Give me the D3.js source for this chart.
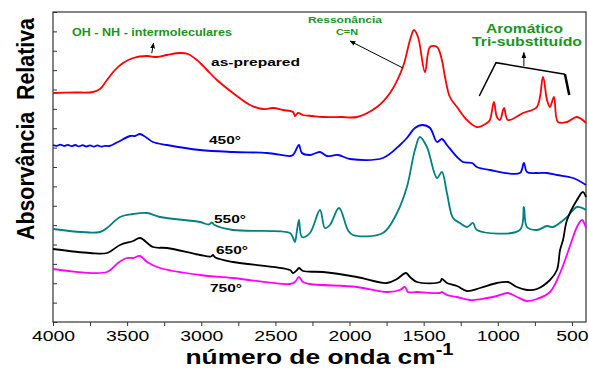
<!DOCTYPE html>
<html>
<head>
<meta charset="utf-8">
<script src="https://cdn.jsdelivr.net/npm/d3@7"></script>
<style>
  body { margin: 0; background: #fff; }
  svg text { font-family: "Liberation Sans", Arial, sans-serif; }
</style>
</head>
<body>
<div id="chart"></div>
<script>
// spectra: [wavenumber cm-1, absorbance (offset, a.u.)]
const asPrepared = [[4000,22.9],[3850,22.95],[3730,23.0],[3683,23.3],[3636,24.2],[3582,25.2],[3528,25.9],[3460,26.4],[3366,26.6],[3299,26.5],[3231,26.7],[3144,26.9],[3090,26.8],[3029,26.2],[2961,25.2],[2894,24.2],[2786,22.9],[2671,21.7],[2584,21.3],[2516,21.4],[2449,21.2],[2381,21.0],[2368,20.6],[2348,20.9],[2314,20.7],[2250,20.6],[2179,20.5],[2050,20.5],[1950,20.5],[1815,21.5],[1727,22.9],[1640,25.5],[1592,28.2],[1565,29.2],[1538,28.5],[1491,25.0],[1457,27.5],[1410,27.5],[1377,26.2],[1356,24.5],[1323,22.5],[1275,21.5],[1208,20.2],[1141,19.5],[1073,19.9],[1053,20.2],[1026,22.0],[1006,20.5],[985,20.2],[958,21.4],[932,20.2],[830,20.9],[736,21.5],[695,24.5],[668,22.2],[648,21.5],[621,22.5],[594,20.0],[533,20.0],[466,20.5],[405,19.9]];

const t450 = [[4000,17.7],[3975,17.62],[3950,17.74],[3925,17.6],[3900,17.72],[3875,17.58],[3850,17.7],[3825,17.56],[3800,17.68],[3775,17.55],[3750,17.67],[3725,17.54],[3700,17.66],[3675,17.53],[3650,17.62],[3620,17.6],[3562,18.0],[3481,18.6],[3447,18.6],[3413,18.8],[3366,18.4],[3326,18.0],[3231,17.7],[3009,17.2],[2786,17.0],[2557,16.9],[2402,16.6],[2381,16.7],[2368,17.0],[2341,17.7],[2321,16.9],[2267,16.7],[2199,17.0],[2152,16.6],[2078,16.7],[1997,16.3],[1775,16.4],[1660,17.7],[1613,18.4],[1559,19.4],[1511,19.7],[1457,19.4],[1410,18.0],[1377,18.3],[1343,17.7],[1275,16.5],[1235,16.0],[1174,15.9],[1141,15.5],[1053,15.2],[851,14.9],[824,15.9],[803,15.0],[736,14.9],[668,14.9],[601,14.7],[493,14.4],[405,13.7]];

const t550 = [[4000,9.3],[3683,9.0],[3636,9.4],[3548,10.5],[3460,10.8],[3366,10.9],[3278,10.5],[3009,10.0],[2950,9.75],[2928,9.95],[2910,9.7],[2786,9.2],[2402,8.9],[2381,8.4],[2368,8.0],[2354,9.2],[2341,10.2],[2321,8.5],[2267,8.9],[2199,11.2],[2166,9.4],[2132,9.7],[2071,11.4],[2011,9.2],[1977,8.7],[1775,8.9],[1680,10.9],[1613,13.5],[1559,17.2],[1525,18.5],[1478,17.5],[1410,14.4],[1377,15.0],[1343,12.9],[1302,10.4],[1255,9.9],[1208,9.5],[1167,9.9],[1141,9.2],[851,9.2],[824,11.5],[803,9.5],[736,9.2],[668,9.6],[628,9.5],[533,10.5],[466,11.5],[405,11.2]];

const t650 = [[4000,7.3],[3750,6.9],[3636,6.9],[3548,7.7],[3460,8.1],[3413,8.4],[3326,7.5],[3231,7.4],[3009,6.7],[2935,6.55],[2921,6.7],[2905,6.45],[2786,6.0],[2402,5.2],[2381,4.9],[2354,5.2],[2341,5.4],[2314,5.1],[2179,5.0],[1950,4.5],[1748,3.9],[1680,4.3],[1619,4.9],[1592,4.5],[1545,4.0],[1390,4.0],[1377,4.3],[1343,3.9],[1275,3.6],[1208,3.1],[1120,3.4],[1006,3.9],[932,4.0],[871,3.5],[803,3.2],[736,3.3],[648,4.2],[601,5.2],[580,7.2],[560,8.2],[533,10.2],[466,12.2],[426,13.0],[405,12.5]];

const t750 = [[4000,5.3],[3636,5.0],[3562,5.9],[3501,6.4],[3460,6.4],[3413,6.6],[3366,6.0],[3278,5.4],[3009,4.7],[2786,4.4],[2402,3.8],[2368,4.0],[2341,4.5],[2314,4.0],[2267,3.8],[1950,3.5],[1748,3.0],[1660,3.2],[1626,3.5],[1606,3.0],[1545,3.0],[1390,2.9],[1377,3.0],[1343,2.7],[1275,2.5],[1188,2.2],[1073,2.4],[1006,2.6],[932,2.9],[871,2.5],[803,2.1],[736,2.3],[648,3.0],[580,4.9],[513,7.6],[466,9.5],[432,10.2],[405,9.4]];

const series = [
  {name: "as-prepared", data: asPrepared, color: "#ff0000"},
  {name: "450°", data: t450, color: "#0000ff"},
  {name: "550°", data: t550, color: "#008080"},
  {name: "650°", data: t650, color: "#000000"},
  {name: "750°", data: t750, color: "#ff00ff"}
];

const xTickValues = d3.range(4000, 404, -250);

// chart frame
const W = 589, H = 371;
const margin = {top: 12, right: 3, bottom: 49, left: 53};
const width = W - margin.left - margin.right;
const height = H - margin.top - margin.bottom;

const svg = d3.select("#chart").append("svg")
  .attr("width", W).attr("height", H)
  .append("g")
  .attr("transform", `translate(${margin.left},${margin.top})`);

const x = d3.scaleLinear().domain([4000, 405]).range([0, width]);
const y = d3.scaleLinear().domain([0, 31]).range([height, 0]);

// arrow head
svg.append("defs").append("marker")
  .attr("id", "head").attr("viewBox", "0 0 10 10")
  .attr("refX", 9).attr("refY", 5)
  .attr("markerWidth", 6).attr("markerHeight", 6)
  .attr("orient", "auto-start-reverse")
  .append("path").attr("d", "M0,1 L10,5 L0,9 z").attr("fill", "#000");

// x axis
const xAxis = svg.append("g")
  .attr("transform", `translate(0,${height})`)
  .call(d3.axisBottom(x).tickValues(xTickValues).tickSize(4).tickSizeOuter(0).tickPadding(4)
    .tickFormat(d => d % 500 === 0 ? d : ""));
xAxis.selectAll(".tick").filter(d => d % 500 !== 0).select("text").remove();
xAxis.selectAll("text")
  .attr("font-size", 15).attr("fill", "#000")
  .attr("textLength", d => String(d).length * 10.8)
  .attr("lengthAdjust", "spacingAndGlyphs");
xAxis.selectAll("line").attr("stroke", "#333");
xAxis.select(".domain").remove();

// y axis, ticks inside, no labels
const yAxis = svg.append("g")
  .call(d3.axisLeft(y).tickValues(d3.range(0, 31.001, 31 / 16)).tickSize(-4).tickSizeOuter(0).tickFormat(""));
yAxis.selectAll("text").remove();
yAxis.selectAll("line").attr("stroke", "#333");
yAxis.select(".domain").remove();

svg.append("rect")
  .attr("width", width).attr("height", height)
  .attr("fill", "none").attr("stroke", "#333").attr("stroke-width", 1.2);

// spectra
const line = d3.line()
  .x(d => x(d[0])).y(d => y(d[1]))
  .curve(d3.curveCatmullRom.alpha(0.5));

svg.selectAll(".spec")
  .data(series).enter()
  .append("path")
  .attr("class", "spec")
  .attr("d", d => line(d.data))
  .attr("fill", "none")
  .attr("stroke", d => d.color)
  .attr("stroke-width", 1.8)
  .attr("stroke-linejoin", "round");

// text labels
function label(txt, wn, a, size, len, color, anchor) {
  svg.append("text")
    .attr("x", x(wn)).attr("y", y(a))
    .attr("text-anchor", anchor || "start")
    .attr("font-size", size).attr("font-weight", "bold")
    .attr("fill", color || "#000")
    .attr("textLength", len).attr("lengthAdjust", "spacingAndGlyphs")
    .text(txt);
}
const green = "#1c941c";
label("OH - NH - intermoleculares", 3872, 28.6, 10, 160, green);
label("as-prepared", 2934, 25.6, 11, 89);
label("Ressonância", 2031, 29.87, 9, 74, green, "middle");
label("C=N", 2017, 28.7, 9, 22, green, "middle");
label("Aromático", 820, 28.93, 12, 77, green, "middle");
label("Tri-substituído", 803, 27.6, 12, 110, green, "middle");
label("450°", 2948, 17.8, 11, 32);
label("550°", 2914, 9.93, 11, 32);
label("650°", 2901, 6.77, 11, 32);
label("750°", 2941, 3.03, 11, 32);

// arrows and bracket
function arrow(x1, y1, x2, y2) {
  svg.append("line")
    .attr("x1", x(x1)).attr("y1", y(y1)).attr("x2", x(x2)).attr("y2", y(y2))
    .attr("stroke", "#000").attr("stroke-width", 1)
    .attr("marker-end", "url(#head)");
}
arrow(3334, 26.87, 3322, 27.9);
arrow(1640, 25.4, 1997, 28.1);
arrow(824, 25.6, 824, 26.95);

svg.append("path")
  .attr("d", d3.line().x(d => x(d[0])).y(d => y(d[1]))([[1125, 22.6], [1012, 25.93], [547, 24.77]]))
  .attr("fill", "none").attr("stroke", "#000").attr("stroke-width", 1.5);
svg.append("path")
  .attr("d", d3.line().x(d => x(d[0])).y(d => y(d[1]))([[547, 24.77], [518, 22.7]]))
  .attr("fill", "none").attr("stroke", "#000").attr("stroke-width", 2.5);

// axis titles
const xt = svg.append("text")
  .attr("x", width / 2).attr("y", height + 42)
  .attr("text-anchor", "middle")
  .attr("font-size", 21).attr("font-weight", "bold")
  .attr("textLength", 268).attr("lengthAdjust", "spacingAndGlyphs");
xt.append("tspan").text("número de onda cm");
xt.append("tspan").attr("dy", -9).attr("font-size", 16).text("-1");

svg.append("text")
  .attr("transform", `translate(${-19},${117}) rotate(-90)`)
  .attr("text-anchor", "middle")
  .attr("font-size", 23).attr("font-weight", "bold")
  .attr("textLength", 222).attr("lengthAdjust", "spacingAndGlyphs")
  .text("Absorvância\u00a0 Relativa");
</script>
</body>
</html>
